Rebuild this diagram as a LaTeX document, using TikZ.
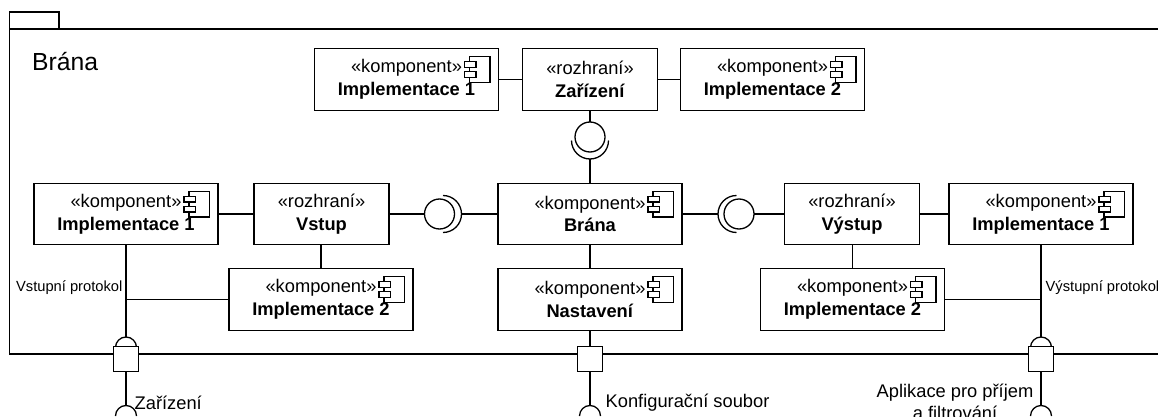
\documentclass[tikz,border=0pt]{standalone}
\usepackage{fontspec}
\setmainfont{Liberation Sans}
\usepackage{tikz}
\usetikzlibrary{positioning}

\begin{document}
\begin{tikzpicture}[
            x=1pt, y=-1pt,
            line width=1.3pt,
            komp/.style={rectangle, draw, fill=white, align=center, outer sep=0pt, inner sep=0pt, minimum width=184pt, minimum height=61.5pt, font=\fontsize{18.3}{22.6}\selectfont}, % Box for parts
            rozhr/.style={komp, minimum width=135pt}, % Narrower box for interfaces
            kruh/.style={circle, draw, fill=white, outer sep=0pt, inner sep=0pt, minimum size=30pt}, % Provided interface
            port/.style={rectangle, draw, fill=white, outer sep=0pt, inner sep=0pt, minimum size=24.5pt}, % Square on the frame
            popis/.style={inner sep=0pt, font=\fontsize{18.3}{22}\selectfont, align=center}, % Outer labels
            maly/.style={inner sep=0pt, font=\fontsize{14.7}{16}\selectfont} % Protocol labels
            ]

        \useasboundingbox (0,0) rectangle (1158,417);
        \clip (0,0) rectangle (1158,417);

        % Package frame, open on the right
        \draw (1158,29) -- (9.5,29) -- (9.5,354) -- (1158,354);
        \draw (9.5,29) -- (9.5,12) -- (59,12) -- (59,29);
        \node[popis, anchor=west, font=\fontsize{24.7}{28}\selectfont] (nazev) at (31.5,62) {Brána};

        % Top row
        \node[komp] (impl1T) at (406.5,79.5) {«komponent»\\\textbf{Implementace 1}};
        \node[rozhr] (zar) at (590,79.5) {«rozhraní»\\\textbf{Zařízení}};
        \node[komp] (impl2T) at (772.5,79.5) {«komponent»\\\textbf{Implementace 2}};

        % Middle row
        \node[komp] (impl1L) at (126,214) {«komponent»\\\textbf{Implementace 1}};
        \node[rozhr] (vstup) at (321.5,214) {«rozhraní»\\\textbf{Vstup}};
        \node[komp] (brana) at (590,214) {«komponent»\\\textbf{Brána}};
        \node[rozhr] (vystup) at (852,214) {«rozhraní»\\\textbf{Výstup}};
        \node[komp] (impl1R) at (1041,214) {«komponent»\\\textbf{Implementace 1}};

        % Bottom row
        \node[komp] (impl2L) at (321,299.5) {«komponent»\\\textbf{Implementace 2}};
        \node[komp] (nast) at (590,299.5) {«komponent»\\\textbf{Nastavení}};
        \node[komp] (impl2R) at (852.5,299.5) {«komponent»\\\textbf{Implementace 2}};

        % Component icons
        \foreach \b in {impl1T, impl2T, impl1L, brana, impl1R, impl2L, nast, impl2R} {
            \begin{scope}[shift={(\b.north east)}]
                \draw (-29,8) rectangle (-8.5,33.7);
                \draw[fill=white] (-34,13) rectangle (-22.5,18.7);
                \draw[fill=white] (-34,23) rectangle (-22.5,28.7);
            \end{scope}
        }

        % Interfaces between the rows
        \node[kruh] (zarK) at (590,137) {};
        \node[kruh] (vstupK) at (439.5,214) {};
        \node[kruh] (vystupK) at (739,214) {};
        \coordinate (zarS) at (590,159);
        \coordinate (vstupS) at (461.5,214);
        \coordinate (vystupS) at (718,214);
        \draw (zarS) arc[start angle=270, end angle=180, radius=18.5pt];
        \draw (zarS) arc[start angle=270, end angle=360, radius=18.5pt];
        \draw (vstupS) arc[start angle=0, end angle=90, radius=18.5pt];
        \draw (vstupS) arc[start angle=0, end angle=-90, radius=18.5pt];
        \draw (vystupS) arc[start angle=180, end angle=90, radius=18.5pt];
        \draw (vystupS) arc[start angle=180, end angle=270, radius=18.5pt];

        % Ports, with half circles above and below
        \coordinate (portLT) at (126,337);
        \coordinate (portRT) at (1041,337);
        \coordinate (portLB) at (126,405.5);
        \coordinate (portCB) at (590,405.5);
        \coordinate (portRB) at (1041,405.5);
        \foreach \b in {portLT, portRT, portLB, portCB, portRB} {
            \draw ([xshift=-10.5pt,yshift=-10.5pt]\b) arc[start angle=180, end angle=0, radius=10.5pt];
        }
        \node[port] (portL) at (126,359) {};
        \node[port] (portC) at (590,359) {};
        \node[port] (portR) at (1041,359) {};

        % Joins on the long vertical lines
        \coordinate (uzelL) at (impl1L.south |- impl2L.west);
        \coordinate (uzelR) at (impl1R.south |- impl2R.east);

        % Connectors
        \draw (impl1T) -- (zar);
        \draw (zar) -- (impl2T);
        \draw (zar) -- (zarK);
        \draw (zarS) -- (brana);
        \draw (impl1L) -- (vstup);
        \draw (vstup) -- (vstupK);
        \draw (vstupS) -- (brana);
        \draw (brana) -- (vystupS);
        \draw (vystupK) -- (vystup);
        \draw (vystup) -- (impl1R);
        \draw (vstup.south -| impl2L) -- (impl2L);
        \draw (vystup.south -| impl2R) -- (impl2R);
        \draw (brana) -- (nast);
        \draw (nast) -- (portC);
        \draw (impl1L) -- (portLT);
        \draw (impl1R) -- (portRT);
        \draw (impl2L) -- (uzelL);
        \draw (impl2R) -- (uzelR);
        \draw (portL) -- (portLB);
        \draw (portC) -- (portCB);
        \draw (portR) -- (portRB);

        % Outer labels
        \node[maly, anchor=east] (vstupP) at (123,288) {Vstupní protokol};
        \node[maly, anchor=west] (vystupP) at (1045,288) {Výstupní protokol};
        \node[popis, anchor=west] (zarP) at (134,403) {Zařízení};
        \node[popis, anchor=west] (konfP) at (605,403) {Konfigurační soubor};
        \node[popis] (aplP) at (955,402) {Aplikace pro příjem\\a filtrování};

    \end{tikzpicture}
\end{document}
